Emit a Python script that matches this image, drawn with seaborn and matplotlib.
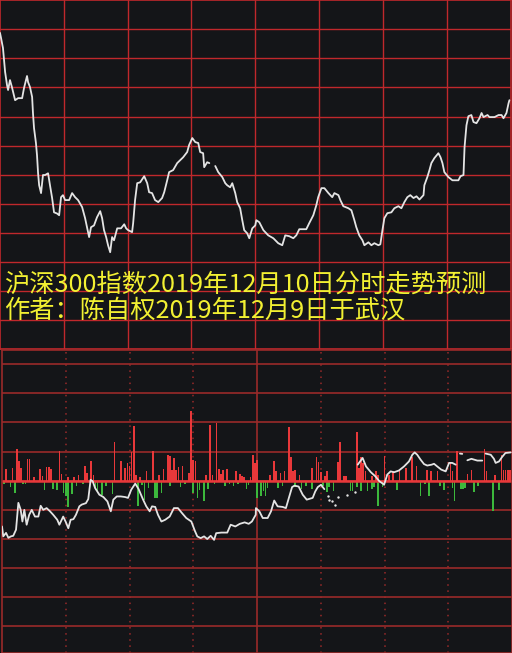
import numpy as np
import pandas as pd
import seaborn as sns
import matplotlib.pyplot as plt

# upper panel: session minute (0-240) and price level (in grid rows), NaN = gap
top_min = [0, 0.5, 1.4, 2.4, 3.3, 3.8, 4.7, 5.6, 7.1, 8.5, 10.4, 11.3, 12.7, 13.2, 14.1,
           15.1, 15.5, 16.0, 16.9, 17.4, 17.9, 18.4, 19.3, 20.2, 21.2, 22.6, 23.5, 24.5,
           25.4, 26.8, 27.8, 28.7, 29.6, 30.6, 32.5, 33.9, 35.3, 36.7, 38.6, 40.0, 40.9,
           41.9, 42.8, 44.2, 45.6, 47.1, 48.0, 48.9, 49.9, 50.8, 51.8, 52.7, 53.6, 55.1,
           56.9, 58.4, 59.3, 60.2, 62.1, 62.6, 63.5, 64.5, 65.9, 67.8, 69.2, 70.1, 71.5,
           72.9, 74.4, 76.2, 77.2, 78.6, 79.5, 81.4, 83.3, 86.1, 88.0, 88.9, 90.4, 91.8,
           93.2, 94.1, 95.5, 96.0, 97.4, 98.4, 99.8, 101.2, 102.6, 104.5, 105.9, 106.8,
           108.2, 109.2, 110.6, 111.5, 112.9, 113.9, 114.8, 116.2, 117.2, 118.6, 120.0,
           120.5, 121.9, 123.8, 126.1, 128.5, 130.8, 132.7, 134.1, 136.0, 137.9, 139.3,
           140.7, 144.0, 145.4, 147.3, 148.7, 149.6, 151.1, 152.5, 154.4, 156.2, 157.2,
           159.1, 160.0, 161.4, 163.8, 165.2, 166.6, 167.5, 168.9, 170.4, 171.3, 173.2,
           174.6, 176.0, 177.9, 178.8, 179.8, 180.7, 182.1, 184.0, 185.4, 187.3, 188.7,
           190.1, 191.5, 192.9, 194.4, 195.8, 197.2, 199.1, 199.5, 200.9, 201.9, 202.8,
           204.2, 206.1, 207.1, 208.0, 208.9, 210.8, 212.7, 215.5, 216.5, 217.9, 218.4,
           219.3, 220.2, 221.6, 222.6, 224.0, 225.4, 226.4, 227.3, 229.2, 230.1, 232.5,
           234.4, 235.8, 236.7, 238.1, 239.1, 239.5]
top_val = [10.87, 10.69, 10.35, 9.53, 9.08, 8.91, 9.25, 9.01, 8.56, 8.63, 8.63, 8.98, 9.39,
           9.18, 9.01, 8.67, 8.12, 7.60, 7.09, 6.67, 6.05, 5.64, 5.37, 5.99, 5.99, 6.05,
           5.64, 5.20, 4.71, 4.67, 4.61, 5.23, 5.30, 5.13, 5.13, 5.37, 5.23, 5.13, 4.89,
           4.51, 4.20, 3.86, 4.20, 4.26, 4.54, 4.75, 4.51, 4.10, 3.86, 3.58, 3.34, 3.86,
           3.75, 4.16, 4.16, 4.30, 4.16, 4.10, 4.03, 4.34, 5.13, 5.71, 5.74, 5.95, 5.71,
           5.40, 5.37, 5.13, 5.06, 5.20, 5.40, 5.81, 6.09, 6.16, 6.40, 6.60, 6.78, 7.02,
           7.26, 7.12, 7.09, 6.78, 6.74, 6.26, 6.43, 6.40, np.nan, 6.30, 6.09, 5.92, 5.71,
           5.64, 5.57, 5.71, 5.37, 5.06, 4.85, 4.44, 4.10, 3.99, 3.82, 4.16, 4.26, 4.44,
           4.37, 4.10, 3.92, 3.82, 3.65, 3.58, 3.92, 3.89, 3.82, 3.92, 4.13, 4.13, 4.34,
           4.61, 4.95, 5.23, 5.54, 5.54, 5.37, 5.23, 5.37, 5.30, 5.13, 4.92, 4.85, 4.78,
           4.44, 4.20, 3.92, 3.75, 3.58, 3.68, 3.58, 3.65, 3.58, 3.61, 4.10, 4.51, 4.68,
           4.71, 4.85, 4.92, 4.85, 5.06, 5.23, 5.30, 5.20, 5.26, 5.15, 5.30, 5.64, 5.92,
           6.16, 6.40, 6.57, 6.74, 6.60, 6.40, 6.09, 5.92, 5.81, 5.81, 5.95, 5.99, 6.95,
           7.70, 8.01, 8.05, 7.81, 7.77, 7.94, 8.12, 7.98, 8.05, 7.98, 7.98, 8.05, 8.05,
           7.94, 8.12, 8.46, 8.56]

# lower panel bars (grid rows): red up, green down
up_min = [2, 5, 7, 8, 9, 12, 13, 15, 18, 19, 21, 22, 23, 27, 28, 31, 34, 36, 39, 40, 42,
          43, 53, 56, 58, 59, 60, 61, 62, 63, 65, 68, 71, 74, 76, 78, 79, 80, 81, 82, 83,
          85, 88, 89, 90, 91, 96, 98, 99, 101, 102, 103, 104, 106, 110, 112, 113, 114, 117,
          118, 119, 120, 126, 128, 129, 131, 133, 135, 136, 137, 138, 140, 146, 148, 149,
          150, 152, 153, 158, 159, 161, 162, 167, 168, 169, 170, 171, 174, 176, 177, 180,
          182, 184, 187, 190, 193, 195, 200, 202, 205, 211, 212, 214, 219, 221, 227, 228,
          232, 235, 236, 237, 238, 239]
up_val = [0.40, 0.44, 1.09, 0.69, 0.44, 0.76, 0.76, 0.14, 0.40, 0.15, 0.48, 0.48, 0.40,
          1.03, 0.24, 0.13, 0.13, 0.18, 0.52, 0.26, 0.69, 0.21, 1.34, 0.66, 0.44, 0.60,
          0.51, 1.00, 1.86, 0.20, 0.11, 0.33, 1.02, 0.20, 0.39, 0.88, 0.85, 0.37, 0.77,
          0.37, 0.46, 0.50, 0.27, 2.40, 0.71, 0.69, 0.20, 1.91, 0.20, 1.99, 0.39, 0.23,
          0.37, 0.39, 0.34, 0.23, 0.16, 0.11, 0.14, 0.88, 0.59, 0.72, 0.21, 0.69, 0.32,
          0.26, 0.34, 1.83, 0.82, 0.32, 0.38, 0.21, 0.44, 0.82, 0.65, 0.29, 0.17, 0.32,
          0.65, 1.34, 0.17, 0.17, 1.67, 0.44, 0.82, 0.61, 0.32, 0.17, 0.32, 0.21, 0.86,
          0.21, 0.32, 0.32, 0.44, 0.82, 0.52, 0.38, 0.32, 0.32, 0.65, 0.32, 1.01, 0.24,
          0.36, 1.09, 0.32, 0.21, 0.89, 0.36, 0.36, 0.36, 0.36]
down_min = [1, 4, 6, 10, 11, 20, 24, 26, 29, 30, 31, 33, 35, 38, 44, 45, 47, 49, 52, 55,
            64, 66, 67, 69, 72, 73, 75, 79, 84, 86, 90, 92, 93, 95, 97, 100, 105, 107, 109,
            111, 115, 116, 120, 122, 123, 124, 125, 130, 132, 138, 141, 143, 146, 151, 153,
            154, 156, 164, 165, 167, 169, 172, 174, 175, 177, 179, 186, 197, 199, 201, 206,
            208, 212, 213, 216, 217, 218, 222, 224, 231, 234]
down_val = [-0.10, -0.22, -0.42, -0.10, -0.10, -0.31, -0.29, -0.33, -0.42, -0.54, -0.90,
            -0.45, -0.17, -0.10, -0.31, -0.37, -0.48, -0.17, -0.46, -0.06, -0.86, -0.14,
            -0.65, -0.25, -0.60, -0.60, -0.42, -0.17, -0.22, -0.10, -0.42, -0.60, -0.33,
            -0.68, -0.29, -0.10, -0.17, -0.10, -0.17, -0.10, -0.29, -0.14, -0.60, -0.54,
            -0.37, -0.54, -0.25, -0.25, -0.17, -0.22, -0.29, -0.17, -0.29, -0.17, -0.40,
            -0.22, -0.37, -0.34, -0.34, -0.22, -0.37, -0.37, -0.29, -0.22, -0.86, -0.22,
            -0.33, -0.54, -0.10, -0.54, -0.17, -0.33, -0.25, -0.71, -0.29, -0.29, -0.25,
            -0.40, -0.17, -1.05, -0.33]

# lower panel white line, NaN = gap
low_min = [0, 0.6, 1.9, 3.0, 4.2, 5.3, 6.6, 7.7, 8.8, 9.6, 10.5, 11.6, 12.8, 14.0, 15.5,
           17.1, 18.2, 19.4, 21.0, 22.6, 24.1, 26.0, 27.0, 28.8, 30.1, 31.2, 32.3, 33.6,
           34.8, 36.4, 37.5, 39.5, 40.6, 41.7, 42.7, 43.8, 45.8, 47.7, 49.6, 51.2, 52.4,
           54.0, 55.9, 57.9, 59.3, 60.8, 62.7, 64.3, 66.4, 67.9, 69.5, 70.6, 72.1, 73.4,
           75.0, 76.8, 78.9, 80.9, 82.8, 84.7, 86.7, 89.1, 90.7, 91.9, 93.5, 95.1, 96.6,
           98.2, 99.8, 100.8, 103.2, 106.0, 107.6, 109.8, 111.9, 114.2, 116.1, 117.6, 119.4,
           119.5, 121.1, 122.7, 125.0, 126.6, 128.1, 129.7, 132.1, 133.6, 135.2, 136.5,
           137.6, 139.6, 141.5, 143.4, 146.2, 147.4, 148.6, 150.1, 151.7, 160.0, 167.4,
           169.7, 171.3, 173.6, 175.7, 177.6, 179.2, 179.8, 181.3, 182.9, 184.5, 186.8,
           189.2, 191.5, 193.1, 194.2, 195.4, 197.0, 198.6, 200.1, 202.2, 203.3, 204.8,
           206.7, 208.8, 210.4, 211.9, 213.5, 214.5, 215.5, 216.6, 218.0, 219.0, 220.9,
           223.7, 226.0, 227.0, 227.6, 230.0, 231.5, 232.3, 233.9, 235.3, 236.9, 239.4]
low_val = [-1.57, -1.91, -1.79, -1.96, -1.91, -1.89, -1.68, -0.76, -1.00, -1.40, -1.00,
           -1.51, -1.17, -1.00, -1.23, -1.23, -0.86, -1.00, -0.94, -1.05, -1.17, -1.34,
           -1.51, -1.23, -1.43, -1.63, -1.34, -1.32, -1.17, -0.88, -0.82, -0.77, -0.63,
           0.03, -0.02, -0.25, -0.48, -0.56, -0.71, -1.05, -0.65, -0.54, -0.54, -0.56,
           -0.59, -0.31, -0.10, -0.29, -0.65, -0.88, -1.05, -0.88, -0.90, -1.17, -1.40,
           -1.34, -1.23, -0.94, -0.94, -1.11, -1.28, -1.40, -1.71, -1.91, -1.97, -1.91,
           -2.00, -1.89, -2.03, -1.80, -1.78, -1.78, -1.51, -1.57, -1.48, -1.43, -1.48,
           -1.40, -1.17, -0.94, -1.05, -1.28, -1.28, -1.05, -0.68, -0.88, -0.90, -0.94,
           -0.54, -0.22, -0.17, -0.20, -0.48, -0.65, -0.59, -0.37, -0.22, -0.14, -0.29,
           np.nan, 0.55, 0.78, 0.49, 0.29, 0.15, -0.02, -0.10, -0.14, 0.21, 0.32, 0.29,
           0.35, 0.49, 0.66, 0.89, 0.97, 0.89, 0.72, 0.57, 0.52, 0.55, 0.58, 0.49, 0.38,
           0.32, 0.61, 0.61, 0.55, np.nan, 0.93, 0.92, np.nan, 0.70, 0.75, 0.69, 0.69,
           np.nan, 0.93, 0.89, 0.75, 0.61, 0.66, 0.81, 0.95, 0.97]
dot_min = [153.3, 154.0, 155.3, 156.7, 158.3, 162.4, 166.1]
dot_val = [-0.54, -0.65, -0.71, -0.82, -0.56, -0.48, -0.40]

title_1 = "沪深300指数2019年12月10日分时走势预测"
title_2 = "作者：陈自权2019年12月9日于武汉"

BG = "#141518"
GRID = "#c0282c"
GRID_DARK = "#9a2a2a"
RED = "#e8383a"
GREEN = "#3cb83c"
WHITE = "#e4e4e4"
YELLOW = "#f2f032"

sns.set_theme(style="dark", rc={"axes.facecolor": BG, "figure.facecolor": BG})
plt.rcParams["font.family"] = ["Noto Sans CJK SC", "DejaVu Sans"]


def line_frame(xs, ys):
    # split the series into runs at each NaN
    df = pd.DataFrame({"minute": xs, "value": ys})
    df["seg"] = df["value"].isna().cumsum()
    return df.dropna()


W, H = 512, 653
fig = plt.figure(figsize=(W / 100, H / 100), dpi=100)
ax_top = fig.add_axes([0, 1 - 349.5 / H, 510.5 / W, 349.5 / H])
ax_bot = fig.add_axes([2 / W, 0, 510 / W, 303.5 / H])

# upper panel
ax_top.set_xlim(0, 240)
ax_top.set_ylim(0, 12)
for v in range(30, 240, 30):
    ax_top.axvline(v, color=GRID, lw=1.0, zorder=1)
for h in range(1, 12):
    ax_top.axhline(h, color=GRID, lw=1.0, zorder=1)
sns.lineplot(data=line_frame(top_min, top_val), x="minute", y="value", units="seg",
             estimator=None, sort=False, color=WHITE, lw=1.3, ax=ax_top, zorder=3)

# lower panel
ax_bot.set_xlim(0, 240)
ax_bot.set_ylim(-5.91, 4.5)
for h in range(-5, 5):
    ax_bot.axhline(h, color=GRID_DARK, lw=1.2, zorder=1)
ax_bot.axvline(120, color=GRID_DARK, lw=1.2, zorder=1)
for v in [30, 60, 90, 150, 180, 210]:
    ax_bot.axvline(v, color=GRID_DARK, lw=1.1, ls=(0, (1, 3)), zorder=1)

bars = pd.concat([
    pd.DataFrame({"minute": up_min, "value": up_val, "side": "up"}),
    pd.DataFrame({"minute": down_min, "value": down_val, "side": "down"}),
])
sns.barplot(data=bars, x="minute", y="value", hue="side", native_scale=True,
            palette={"up": RED, "down": GREEN}, dodge=False, errorbar=None,
            width=0.8, saturation=1, linewidth=0, legend=False, ax=ax_bot, zorder=2)
ax_bot.axhline(0, color=RED, lw=1.8, zorder=2)
sns.lineplot(data=line_frame(low_min, low_val), x="minute", y="value", units="seg",
             estimator=None, sort=False, color=WHITE, lw=1.3, ax=ax_bot, zorder=3)
sns.scatterplot(x=dot_min, y=dot_val, color=WHITE, s=3, linewidth=0, ax=ax_bot, zorder=3)

for ax in (ax_top, ax_bot):
    ax.set_xticks([])
    ax.set_yticks([])
    ax.set_xlabel("")
    ax.set_ylabel("")
    for sp in ax.spines.values():
        sp.set_visible(True)
        sp.set_color(GRID if ax is ax_top else GRID_DARK)
        sp.set_linewidth(1.2)

fig.text(4 / W, 1 - 285 / H, title_1, color=YELLOW, fontsize=18.2, va="center", ha="left")
fig.text(4 / W, 1 - 311 / H, title_2, color=YELLOW, fontsize=18.2, va="center", ha="left")

fig.savefig("out.png", dpi=100, facecolor=BG)
